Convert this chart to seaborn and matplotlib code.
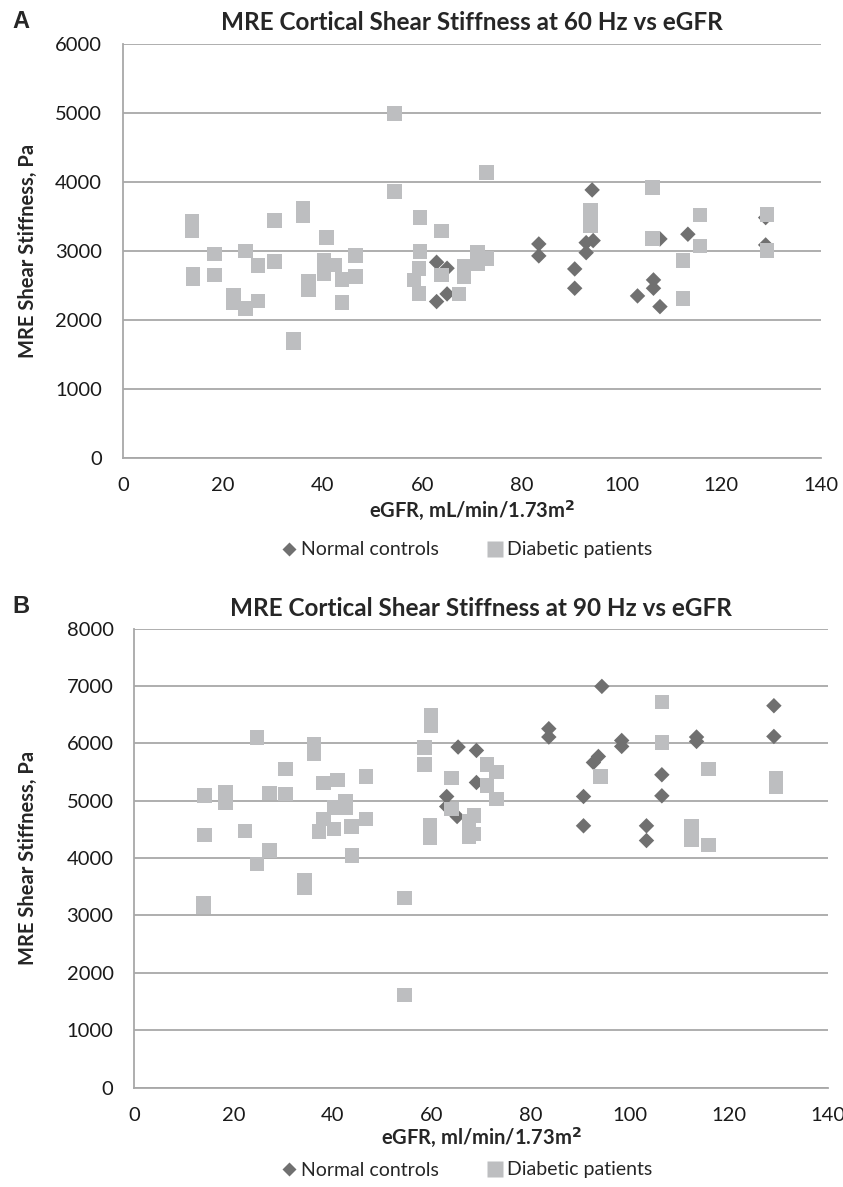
import matplotlib
matplotlib.use("Agg")
import matplotlib.pyplot as plt
import seaborn as sns
from matplotlib.lines import Line2D

# Panel A: 60 Hz
a_norm_egfr = [62.9, 65.0, 65.0, 62.9, 83.4, 83.4, 90.6, 90.6, 94.1, 94.3, 92.9, 92.9,
               107.7, 113.3, 106.4, 106.4, 103.2, 107.7, 128.9, 128.9]
a_norm_stiff = [2836, 2749, 2377, 2266, 3101, 2928, 2739, 2459, 3884, 3150, 3120, 2975,
                3174, 3242, 2580, 2459, 2348, 2193, 3483, 3087]
a_diab_egfr = [13.8, 13.8, 14.0, 14.0, 18.3, 18.3, 22.2, 22.2, 24.6, 24.6, 27.1, 27.1,
               30.4, 30.4, 34.2, 34.2, 36.1, 36.1, 37.2, 37.2, 40.8, 40.3, 40.3, 42.5,
               43.9, 43.9, 46.6, 46.6, 54.4, 54.4, 59.6, 59.6, 59.4, 58.4, 59.4, 63.9,
               63.9, 68.4, 68.4, 67.4, 71.1, 71.1, 72.9, 72.9, 93.8, 93.8, 106.2, 106.2,
               115.7, 115.7, 112.3, 112.3, 129.2, 129.2]
a_diab_stiff = [3430, 3300, 2662, 2594, 2957, 2652, 2352, 2256, 3000, 2169, 2787, 2275,
                3440, 2845, 1720, 1670, 3618, 3507, 2565, 2445, 3198, 2860, 2677, 2797,
                2590, 2256, 2932, 2628, 4995, 3860, 3483, 2990, 2749, 2580, 2387, 3290,
                2652, 2773, 2628, 2377, 2975, 2821, 4135, 2894, 3584, 3367, 3918, 3184,
                3522, 3072, 2860, 2314, 3531, 3004]

# Panel B: 90 Hz
b_norm_egfr = [94.3, 83.6, 83.6, 65.3, 69.0, 69.0, 63.0, 63.0, 65.1, 93.6, 92.6, 90.6,
               90.6, 98.3, 98.3, 113.4, 113.4, 129.0, 129.0, 106.4, 106.4, 103.3, 103.3]
b_norm_stiff = [6995, 6257, 6112, 5937, 5878, 5319, 5075, 4900, 4726, 5773, 5668, 5075,
                4564, 6052, 5948, 6112, 6035, 6658, 6122, 5454, 5087, 4564, 4307]
b_diab_egfr = [24.7, 36.2, 36.2, 30.5, 14.1, 18.4, 18.4, 27.2, 30.5, 38.1, 41.0, 46.7,
               42.6, 40.3, 42.7, 38.1, 37.2, 40.3, 43.8, 46.7, 14.1, 22.3, 27.2, 24.7,
               43.9, 34.3, 34.3, 13.9, 13.9, 59.8, 59.8, 58.5, 58.5, 64.0, 71.1, 73.1,
               71.1, 73.1, 64.0, 68.5, 67.5, 68.5, 67.5, 59.6, 59.6, 54.5, 54.5, 94.0,
               106.4, 106.4, 115.8, 129.4, 129.4, 112.4, 112.4, 115.8]
b_diab_stiff = [6105, 5990, 5815, 5558, 5093, 5152, 4960, 5134, 5117, 5309, 5366, 5424,
                5000, 4883, 4872, 4681, 4464, 4506, 4552, 4681, 4406, 4476, 4133, 3901,
                4045, 3621, 3487, 3215, 3155, 6483, 6309, 5930, 5628, 5396, 5628, 5501,
                5262, 5030, 4855, 4743, 4639, 4424, 4377, 4581, 4349, 3302, 1614, 5424,
                6723, 6018, 5553, 5396, 5250, 4552, 4319, 4232]

x_ticks = [0, 20, 40, 60, 80, 100, 120, 140]

sns.set_style("white")
plt.rcParams["font.family"] = ["Lato", "DejaVu Sans"]

NORM_C = "#707070"
DIAB_C = "#bdbec0"
AXIS_C = "#a8a8a8"
W, H = 843, 1187

fig = plt.figure(figsize=(W / 100, H / 100), dpi=100)
ax_a = fig.add_axes([0.1459, 0.6142, 0.828, 0.3488])
ax_b = fig.add_axes([0.1594, 0.0838, 0.8233, 0.3865])


def style_panel(ax, title, xlabel, ymax, title_y, ylab_x, xlab_y):
    ax.set_xlim(0, 140)
    ax.set_ylim(0, ymax)
    ax.set_xticks(x_ticks)
    ax.set_yticks(range(0, ymax + 1, 1000))
    ax.grid(axis="y", color=AXIS_C, linewidth=1.3)
    ax.set_axisbelow(True)
    for side in ["top", "right"]:
        ax.spines[side].set_visible(False)
    for side in ["left", "bottom"]:
        ax.spines[side].set_color(AXIS_C)
        ax.spines[side].set_linewidth(1.3)
    ax.tick_params(axis="both", direction="out", length=6, width=1.2, color=AXIS_C,
                   labelsize=14.5, labelcolor="#1a1a1a")
    ax.tick_params(axis="y", pad=9)
    ax.tick_params(axis="x", pad=8)
    ax.set_xlabel(xlabel, fontsize=14.5, fontweight="bold")
    ax.set_ylabel("MRE Shear Stiffness, Pa", fontsize=14.5, fontweight="bold")
    ax.yaxis.set_label_coords(ylab_x, 0.5)
    ax.xaxis.set_label_coords(0.5, xlab_y)
    bb = ax.get_position()
    fig.text((bb.x0 + bb.x1) / 2, title_y, title, fontsize=17.5, fontweight="bold",
             ha="center", va="center")


def draw(ax, ne, ns, de, ds):
    sns.scatterplot(x=ne, y=ns, ax=ax, marker="D", s=62, color=NORM_C,
                    edgecolor="none", zorder=3)
    sns.scatterplot(x=de, y=ds, ax=ax, marker="s", s=110, color=DIAB_C,
                    edgecolor="none", zorder=4)


draw(ax_a, a_norm_egfr, a_norm_stiff, a_diab_egfr, a_diab_stiff)
style_panel(ax_a, "MRE Cortical Shear Stiffness at 60 Hz vs eGFR",
            "eGFR, mL/min/1.73m$^\\mathbf{2}$", 6000, 1 - 23 / H, -0.122, -0.098)

draw(ax_b, b_norm_egfr, b_norm_stiff, b_diab_egfr, b_diab_stiff)
style_panel(ax_b, "MRE Cortical Shear Stiffness at 90 Hz vs eGFR",
            "eGFR, ml/min/1.73m$^\\mathbf{2}$", 8000, 1 - 609 / H, -0.139, -0.082)

handles = [
    Line2D([], [], linestyle="none", marker="D", markersize=7.5, color=NORM_C,
           markeredgecolor="none", label="Normal controls"),
    Line2D([], [], linestyle="none", marker="s", markersize=11, color=DIAB_C,
           markeredgecolor="none", label="Diabetic patients"),
]
for ax, ly in [(ax_a, 1 - 550 / H), (ax_b, 1 - 1170 / H)]:
    ax.legend(handles=handles, loc="center", bbox_to_anchor=(466 / W, ly),
              bbox_transform=fig.transFigure, ncol=2, frameon=False, fontsize=14,
              handletextpad=0.1, columnspacing=2.4, handlelength=1.0,
              borderpad=0, borderaxespad=0)

fig.text(12 / W, 1 - 22 / H, "A", fontsize=17, fontweight="bold", va="center",
         family=["Liberation Sans", "DejaVu Sans"])
fig.text(12 / W, 1 - 607 / H, "B", fontsize=17, fontweight="bold", va="center",
         family=["Liberation Sans", "DejaVu Sans"])

fig.savefig("out.png", dpi=100)
